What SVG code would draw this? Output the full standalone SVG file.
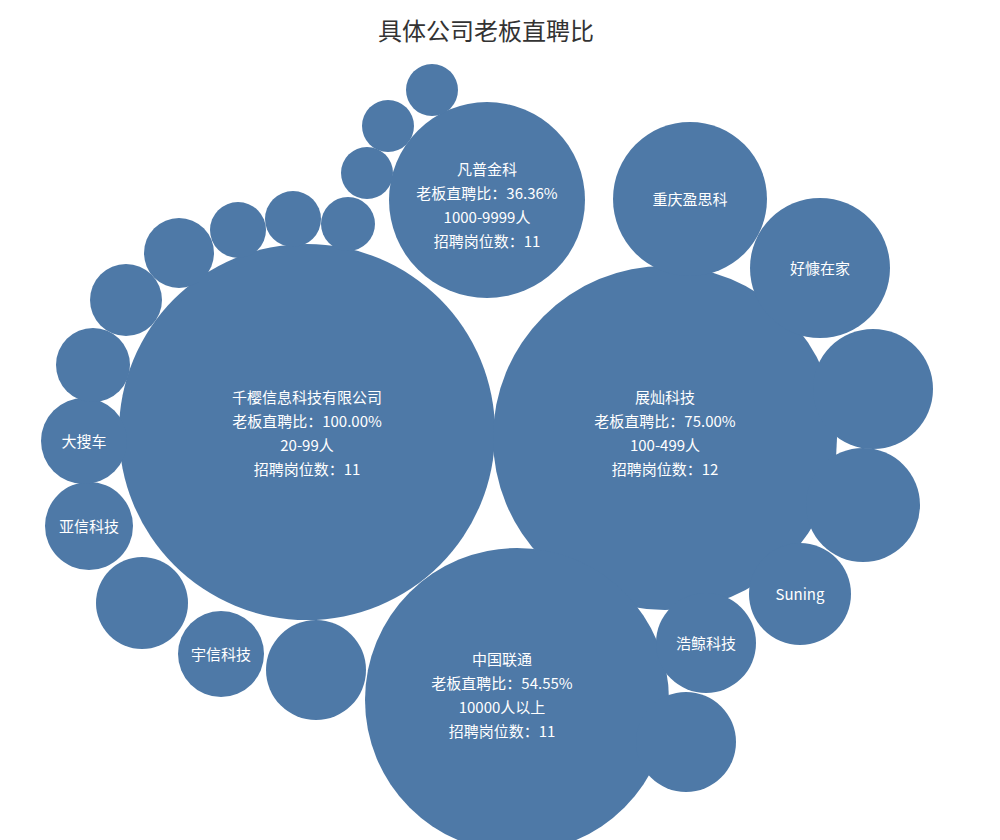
<svg xmlns="http://www.w3.org/2000/svg" width="1000" height="840" viewBox="0 0 1000 840">
<style>
circle{fill:#4e79a7}
text{font-family:"Noto Sans CJK SC","Noto Sans",sans-serif;fill:#fff;font-size:15px;text-anchor:middle}
.t{fill:#333;font-size:24px}
</style>
<rect width="1000" height="840" fill="#fff"/>
<text class="t" x="486" y="40">具体公司老板直聘比</text>
<g id="n1"><circle cx="307" cy="432" r="188"/><text x="307" y="403">千樱信息科技有限公司</text><text x="307" y="427">老板直聘比：100.00%</text><text x="307" y="451">20-99人</text><text x="307" y="475">招聘岗位数：11</text></g>
<g id="n2"><circle cx="665" cy="438" r="172"/><text x="665" y="403">展灿科技</text><text x="665" y="427">老板直聘比：75.00%</text><text x="665" y="451">100-499人</text><text x="665" y="475">招聘岗位数：12</text></g>
<g id="n3"><circle cx="517" cy="700" r="152"/><text x="502" y="665">中国联通</text><text x="502" y="689">老板直聘比：54.55%</text><text x="502" y="713">10000人以上</text><text x="502" y="737">招聘岗位数：11</text></g>
<g id="n4"><circle cx="487" cy="200" r="98"/><text x="487" y="175">凡普金科</text><text x="487" y="199">老板直聘比：36.36%</text><text x="487" y="223">1000-9999人</text><text x="487" y="247">招聘岗位数：11</text></g>
<g id="n5"><circle cx="690" cy="199" r="77"/><text x="690" y="205">重庆盈思科</text></g>
<g id="n6"><circle cx="820" cy="268" r="70"/><text x="820" y="274">好慷在家</text></g>
<g id="n7"><circle cx="873" cy="389" r="60"/></g>
<g id="n8"><circle cx="863" cy="505" r="57"/></g>
<g id="n9"><circle cx="800" cy="594" r="51"/><text x="800" y="600">Suning</text></g>
<g id="n10"><circle cx="706" cy="643" r="50"/><text x="706" y="649">浩鲸科技</text></g>
<g id="n11"><circle cx="686" cy="742" r="50"/></g>
<g id="n12"><circle cx="221" cy="654" r="43"/><text x="221" y="660">宇信科技</text></g>
<g id="n13"><circle cx="316" cy="670" r="50"/></g>
<g id="n14"><circle cx="142" cy="603" r="46"/></g>
<g id="n15"><circle cx="89" cy="526" r="44"/><text x="89" y="532">亚信科技</text></g>
<g id="n16"><circle cx="84" cy="441" r="43"/><text x="84" y="447">大搜车</text></g>
<g id="n17"><circle cx="93" cy="365" r="37"/></g>
<g id="n18"><circle cx="126" cy="300" r="36"/></g>
<g id="n19"><circle cx="179" cy="253" r="35"/></g>
<g id="n20"><circle cx="238" cy="230" r="28"/></g>
<g id="n21"><circle cx="293" cy="219" r="28"/></g>
<g id="n22"><circle cx="348" cy="224" r="27"/></g>
<g id="n23"><circle cx="367" cy="173" r="26"/></g>
<g id="n24"><circle cx="388" cy="126" r="26"/></g>
<g id="n25"><circle cx="432" cy="90" r="26"/></g>
<g id="connectors"></g>
</svg>
